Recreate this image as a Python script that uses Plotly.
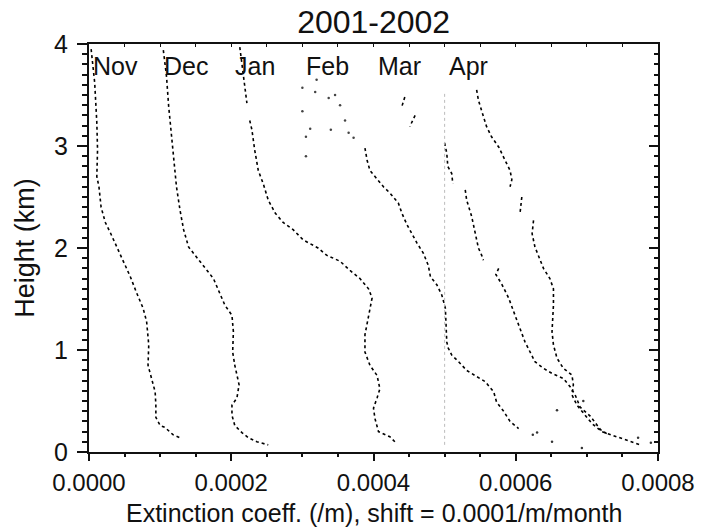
import plotly.graph_objects as go

# Monthly extinction profiles, 2001-2002 (extinction in units of 1e-4 /m, height in km).
# Each month is offset by SHIFT along the x axis; None marks a gap in the profile.
SHIFT = 1e-4
UNIT = 1e-4

months = ["Nov", "Dec", "Jan", "Feb", "Mar", "Apr"]

nov_h = [3.95, 3.72, 3.62, 3.23, 2.96, 2.70, 2.60, 2.40, 2.25, 2.15, 2.01, 1.90, 1.72, 1.56,
         1.41, 1.28, 1.15, 1.05, 0.85, 0.73, 0.59, 0.46, 0.34, 0.26, 0.24, 0.17, 0.14]
nov_e = [0.03, 0.06, 0.08, 0.11, 0.12, 0.11, 0.14, 0.17, 0.23, 0.30, 0.39, 0.46, 0.58, 0.67,
         0.76, 0.81, 0.83, 0.84, 0.83, 0.88, 0.93, 0.94, 0.94, 1.00, 1.07, 1.18, 1.28]

dec_h = [3.94, 3.68, 3.39, 3.19, 3.06, 2.83, 2.60, 2.37, 2.18, 2.01, 1.88, 1.78, 1.70, 1.59,
         1.44, 1.34, 1.18, 0.98, 0.85, 0.66, 0.53, 0.46, 0.36, 0.26, 0.19, 0.14, 0.10, 0.07]
dec_e = [0.045, 0.09, 0.12, 0.15, 0.17, 0.20, 0.23, 0.28, 0.33, 0.40, 0.54, 0.66, 0.75, 0.82,
         0.91, 1.01, 1.03, 1.02, 1.05, 1.11, 1.08, 1.01, 1.01, 1.05, 1.15, 1.24, 1.36, 1.52]

jan_h = [3.97, 3.71, 3.42, None, 3.25, 3.16, 2.96, 2.76, 2.63, 2.47, 2.34, 2.25, 2.18, 2.08,
         2.00, 1.93, 1.87, 1.78, 1.70, 1.60, 1.51, 1.31, 1.15, 0.98, 0.85, 0.75, 0.62, 0.53,
         0.43, 0.33, 0.20, 0.15, 0.08]
jan_e = [0.12, 0.17, 0.22, None, 0.26, 0.29, 0.33, 0.38, 0.45, 0.52, 0.62, 0.73, 0.87, 1.01,
         1.22, 1.34, 1.53, 1.67, 1.81, 1.93, 1.98, 1.93, 1.88, 1.88, 1.95, 2.05, 2.09, 2.05,
         2.00, 2.02, 2.07, 2.23, 2.33]

feb_h = [2.98, 2.86, 2.76, 2.67, 2.60, 2.54, 2.44, 2.34, 2.23, 2.14, 2.05, 1.95, 1.83, 1.72,
         1.64, 1.54, 1.41, 1.25, 1.08, 1.02, 0.95, 0.89, 0.80, 0.74, 0.69, 0.59, 0.49, 0.40,
         0.30, 0.23]
feb_e = [0.88, 0.91, 0.95, 1.05, 1.14, 1.23, 1.35, 1.40, 1.47, 1.54, 1.61, 1.70, 1.77, 1.80,
         1.89, 1.96, 2.01, 2.02, 2.03, 2.05, 2.10, 2.19, 2.31, 2.45, 2.57, 2.69, 2.73, 2.83,
         2.92, 3.04]
# Feb returns above ~3 km are scattered single points
feb_upper_h = [3.57, 3.65, 3.53, 3.47, 3.50, 3.40, 3.34, 3.25, 3.17, 3.16, 3.09, 3.13, 3.08, 2.90]
feb_upper_e = [0.00, 0.20, 0.18, 0.37, 0.46, 0.53, 0.00, 0.60, 0.11, 0.40, 0.05, 0.65, 0.72, 0.05]

mar_h = [3.48, 3.39, None, 3.30, 3.19, None, 3.03, 2.93, 2.80, 2.73, 2.63, None, 2.57, 2.47,
         2.31, 2.14, 2.00, 1.93, 1.88, None, 1.80, 1.74, 1.65, 1.51, 1.34, 1.21, 1.08, 0.885,
         0.82, 0.77, 0.72, 0.64, 0.56, 0.44, 0.35, 0.22, 0.18]
mar_e = [0.44, 0.40, None, 0.585, 0.51, None, 1.00, 1.03, 1.045, 1.10, 1.115, None, 1.29, 1.31,
         1.38, 1.43, 1.475, 1.52, 1.545, None, 1.76, 1.72, 1.80, 1.90, 1.99, 2.06, 2.13, 2.27,
         2.39, 2.51, 2.67, 2.765, 2.835, 2.905, 3.05, 3.19, 3.28]

apr_h = [3.55, 3.45, 3.29, 3.19, 3.09, 2.99, 2.86, 2.76, 2.67, 2.60, None, 2.50, 2.34, None,
         2.27, 2.14, 2.01, 1.93, 1.80, 1.70, 1.60, 1.44, 1.31, 1.18, 1.05, 0.92, 0.82, 0.755,
         0.66, 0.56, 0.46, 0.38, 0.28, 0.20, 0.17, 0.13, 0.07]
apr_e = [0.45, 0.475, 0.545, 0.59, 0.66, 0.76, 0.85, 0.92, 0.945, 0.92, None, 1.085, 1.06, None,
         1.25, 1.23, 1.27, 1.32, 1.39, 1.48, 1.53, 1.53, 1.52, 1.51, 1.53, 1.58, 1.67, 1.79,
         1.81, 1.79, 1.86, 1.95, 2.07, 2.21, 2.33, 2.515, 2.75]

# Stray near-surface returns (already shifted, 1e-4 /m)
stray_h = [0.50, 0.41, 0.17, 0.10, 0.19, 0.04, 0.14, 0.09]
stray_x = [6.95, 6.58, 6.24, 6.51, 6.30, 6.93, 7.72, 7.90]

profiles_h = [nov_h, dec_h, jan_h, feb_h, mar_h, apr_h]
profiles_e = [nov_e, dec_e, jan_e, feb_e, mar_e, apr_e]

x_ticks = [0.0, 0.0002, 0.0004, 0.0006, 0.0008]
x_tick_text = ["0.0000", "0.0002", "0.0004", "0.0006", "0.0008"]
y_ticks = [0, 1, 2, 3, 4]

X_TITLE = "Extinction coeff. (/m), shift = 0.0001/m/month"

FONT = "Liberation Sans, Arial, Helvetica, sans-serif"
INK = "#111111"

fig = go.Figure()


def shifted(vals, k):
    return [None if v is None else (v + k) * UNIT for v in vals]


for k, (hh, ee) in enumerate(zip(profiles_h, profiles_e)):
    fig.add_trace(go.Scatter(
        x=shifted(ee, k), y=hh, mode="lines", connectgaps=False,
        line=dict(color="#000000", width=1.6, dash="dot"),
        showlegend=False, hoverinfo="skip"))

# faint baseline of the April profile
fig.add_trace(go.Scatter(
    x=[5 * SHIFT, 5 * SHIFT], y=[0.07, 3.53], mode="lines",
    line=dict(color="#bbbbbb", width=1, dash="dot"),
    showlegend=False, hoverinfo="skip"))

fig.add_trace(go.Scatter(
    x=shifted(feb_upper_e, 3), y=feb_upper_h, mode="markers",
    marker=dict(color="#444444", size=2.5),
    showlegend=False, hoverinfo="skip"))

fig.add_trace(go.Scatter(
    x=[v * UNIT for v in stray_x], y=stray_h, mode="markers",
    marker=dict(color="#333333", size=2.5),
    showlegend=False, hoverinfo="skip"))

# dummy trace so the top/right frame axes are drawn
fig.add_trace(go.Scatter(x=[None], y=[None], xaxis="x2", yaxis="y2",
                         showlegend=False, hoverinfo="skip"))

for k, name in enumerate(months):
    fig.add_annotation(x=k * SHIFT, y=3.78, text=name, showarrow=False,
                       xanchor="left", yanchor="middle", xshift=2,
                       font=dict(family=FONT, size=25, color=INK))

# x-axis title placed below the tick labels
fig.add_annotation(x=0.5, xref="paper", y=-0.150, yref="paper", text=X_TITLE,
                   showarrow=False, xanchor="center", yanchor="middle",
                   font=dict(family=FONT, size=25, color=INK))

XR = [0, 0.0008]
YR = [0, 4]

fig.update_layout(
    width=709, height=529,
    margin=dict(l=89, r=51, t=44, b=77, autoexpand=False),
    paper_bgcolor="white", plot_bgcolor="white",
    font=dict(family=FONT, color=INK),
    title=dict(text="2001-2002", x=0.527, xanchor="center", y=0.958, yanchor="middle",
               font=dict(family=FONT, size=32, color=INK)),
    xaxis=dict(range=XR, tickvals=x_ticks, ticktext=x_tick_text, automargin=False,
               ticks="outside", ticklen=7, tickwidth=1.5, tickcolor=INK,
               minor=dict(dtick=0.00005, ticks="outside", ticklen=3, tickcolor=INK),
               showline=True, linewidth=2, linecolor=INK,
               showgrid=False, zeroline=False,
               tickfont=dict(family=FONT, size=24, color=INK),
               ticklabelstandoff=1),
    yaxis=dict(range=YR, tickvals=y_ticks, automargin=False,
               ticks="outside", ticklen=10, tickwidth=1.5, tickcolor=INK,
               minor=dict(dtick=0.1, ticks="outside", ticklen=5, tickcolor=INK),
               showline=True, linewidth=2, linecolor=INK,
               showgrid=False, zeroline=False,
               tickfont=dict(family=FONT, size=25, color=INK),
               ticklabelstandoff=4,
               title=dict(text="Height (km)", font=dict(family=FONT, size=27, color=INK),
                          standoff=12)),
    xaxis2=dict(range=XR, overlaying="x", side="top", anchor="y", automargin=False,
                ticks="inside", ticklen=3, dtick=0.00005, tickcolor=INK,
                showticklabels=False, showline=True, linewidth=2, linecolor=INK,
                showgrid=False, zeroline=False),
    yaxis2=dict(range=YR, overlaying="y", side="right", anchor="x", automargin=False,
                ticks="inside", ticklen=9, dtick=1, tickwidth=1.5, tickcolor=INK,
                minor=dict(dtick=0.1, ticks="inside", ticklen=4, tickcolor=INK),
                showticklabels=False, showline=True, linewidth=2, linecolor=INK,
                showgrid=False, zeroline=False),
)

fig.write_html("out.html")
